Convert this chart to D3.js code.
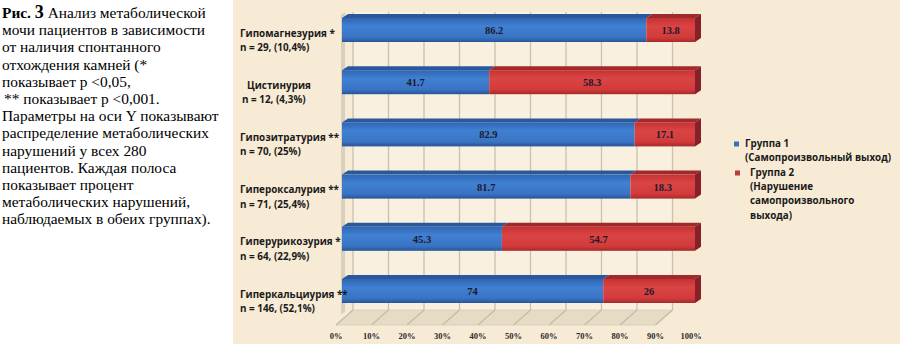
<!DOCTYPE html>
<html><head><meta charset="utf-8">
<script src="https://cdn.jsdelivr.net/npm/d3@7"></script>
<style>body{margin:0;background:#fff}svg{display:block}</style>
</head><body>
<svg id="c" width="900" height="359"></svg>
<script>
const categories = ["Гипомагнезурия *", "Цистинурия", "Гипозитратурия **", "Гипероксалурия **", "Гиперурикозурия *", "Гиперкальциурия **"];
const subLabels = ["n = 29, (10,4%)", "n = 12, (4,3%)", "n = 70, (25%)", "n = 71, (25,4%)", "n = 64, (22,9%)", "n = 146, (52,1%)"];
const group1 = [86.2, 41.7, 82.9, 81.7, 45.3, 74];
const group2 = [13.8, 58.3, 17.1, 18.3, 54.7, 26];
const tickValues = [0,10,20,30,40,50,60,70,80,90,100];
const tickLabels = ["0%","10%","20%","30%","40%","50%","60%","70%","80%","90%","100%"];
const gridValues = [0,10,20,30,40,50,60,70,80,90];
const legendLabels = [["Группа 1","(Самопроизвольный выход)"],["Группа 2","(Нарушение","самопроизвольного","выхода)"]];
const captionLines = ["Анализ метаболической","мочи пациентов в зависимости","от наличия спонтанного","отхождения камней (*","показывает p <0,05,","** показывает p <0,001.","Параметры на оси Y показывают","распределение метаболических","нарушений у всех 280","пациентов. Каждая полоса","показывает процент","метаболических нарушений,","наблюдаемых в обеих группах)."];

const svg = d3.select("#c");
const defs = svg.append("defs");
function grad(id, stops){
  const g = defs.append("linearGradient").attr("id", id).attr("x1",0).attr("y1",0).attr("x2",0).attr("y2",1);
  stops.forEach(s => g.append("stop").attr("offset", s[0]).attr("stop-color", s[1]));
}
grad("gBlue", [[0,"#3066b4"],[0.35,"#4080d2"],[0.8,"#3a74c4"],[1,"#27549a"]]);
grad("gRed", [[0,"#c63232"],[0.35,"#da4444"],[0.8,"#d33b3b"],[1,"#a62a2c"]]);

// background panel
svg.append("rect").attr("x",233).attr("y",0).attr("width",667).attr("height",344).attr("fill","#f7ebd5");

// scales
const xFront = d3.scaleLinear().domain([0,100]).range([342,695]);
const xBack = d3.scaleLinear().domain([0,100]).range([353,708]);
const xFloor = d3.scaleLinear().domain([0,100]).range([336,691]);
const y = d3.scalePoint().domain(categories).range([30,291]);
const barH = 24, dx = 6, dy = -4;
const wallTop = 12, wallBottom = 310, floorFront = 325;

// back wall
svg.append("rect").attr("x",xBack(0)).attr("y",wallTop).attr("width",xBack(90)-xBack(0)).attr("height",wallBottom-wallTop).attr("fill","#f9f0df");
// floor
svg.append("polygon").attr("points",[[xBack(0),wallBottom],[xBack(90),wallBottom],[xFloor(90),floorFront],[xFloor(0),floorFront]].map(p=>p.join(",")).join(" "))
  .attr("fill","#e6dcc6").attr("stroke","#d6ccb6").attr("stroke-width",0.8);
// left wall thin strip
svg.append("polygon").attr("points",[[341,wallTop+3],[345,wallTop],[345,wallBottom+2],[341,wallBottom+4]].map(p=>p.join(",")).join(" "))
  .attr("fill","#d8cfbd");
// gridlines
svg.append("g").selectAll("line").data(gridValues).join("line")
  .attr("x1",d=>xBack(d)).attr("x2",d=>xBack(d)).attr("y1",wallTop).attr("y2",wallBottom)
  .attr("stroke","#c9c0b0").attr("stroke-width",1.3);
svg.append("g").selectAll("line").data(gridValues).join("line")
  .attr("x1",d=>xBack(d)).attr("x2",d=>xFloor(d)).attr("y1",wallBottom).attr("y2",floorFront)
  .attr("stroke","#c4baa8").attr("stroke-width",1.2);

// tick labels
svg.append("g").selectAll("text").data(tickValues).join("text")
  .attr("x",d=>xFloor(d)).attr("y",339).attr("text-anchor","middle")
  .attr("font-family","Liberation Serif").attr("font-weight","bold").attr("font-size",8.5).attr("fill","#2a2a2a")
  .text((d,i)=>tickLabels[i]);

// bars
const rows = categories.map((c,i)=>({c, i, a: group1[i], b: group2[i]}));
const gb = svg.append("g");
rows.forEach(r=>{
  const top = y(r.c) - barH/2, bot = top + barH;
  const segs = [
    {x0: xFront(0), x1: xFront(r.a), fill:"url(#gBlue)", topc:"#2a589c", v:r.a},
    {x0: xFront(r.a), x1: xFront(r.a + r.b), fill:"url(#gRed)", topc:"#a0292b", v:r.b}
  ];
  segs.forEach(s=>{
    gb.append("polygon").attr("points",[[s.x0,top],[s.x0+dx,top+dy],[s.x1+dx,top+dy],[s.x1,top]].map(p=>p.join(",")).join(" "))
      .attr("fill", s.topc);
    gb.append("rect").attr("x",s.x0).attr("y",top).attr("width",s.x1-s.x0).attr("height",barH).attr("fill",s.fill);
    gb.append("text").attr("x",(s.x0+s.x1)/2).attr("y",top+barH/2+4).attr("text-anchor","middle")
      .attr("font-family","Liberation Serif").attr("font-weight","bold").attr("font-size",10.5).attr("fill","#1c1a2a")
      .text(s.v);
  });
  const xe = xFront(r.a + r.b);
  gb.append("polygon").attr("points",[[xe,top],[xe+dx,top+dy],[xe+dx,bot+dy],[xe,bot]].map(p=>p.join(",")).join(" "))
    .attr("fill","#86202a");
});

// category labels
const lab = svg.append("g").attr("font-family","Open Sans").attr("font-weight","bold").attr("font-size",9.9).attr("fill","#1a1a1a");
rows.forEach(r=>{
  const indent = r.i===1 ? 7 : 0;
  lab.append("text").attr("x",240+indent).attr("y",y(r.c)+6.5).text(r.c);
  lab.append("text").attr("x",240+(r.i===1?2:0)).attr("y",y(r.c)+21).text(subLabels[r.i]);
});

// legend
const lg = svg.append("g").attr("font-family","Open Sans").attr("font-weight","bold").attr("font-size",9.8).attr("fill","#1a1a1a");
const legColors = ["#3a72c2","#c0393b"];
const legY = [147,176], legSq = [734,735], legTx = [745,750];
legendLabels.forEach((lines,k)=>{
  lg.append("rect").attr("x",legSq[k]).attr("y",legY[k]-5.5).attr("width",5).attr("height",5).attr("fill",legColors[k]);
  lines.forEach((t,j)=>{
    lg.append("text").attr("x", j===0 ? legTx[k] : (k===0?745:750)).attr("y",legY[k]+j*14.2).text(t);
  });
});

// caption
const cap = svg.append("text").attr("font-family","Liberation Serif").attr("font-size",15.4).attr("fill","#000");
cap.append("tspan").attr("x",2).attr("y",18).attr("font-weight","bold").text("Рис. ");
cap.append("tspan").attr("font-weight","bold").attr("font-size",18).text("3");
cap.append("tspan").text(" " + captionLines[0]);
captionLines.slice(1).forEach((t,j)=>{
  cap.append("tspan").attr("x", j===4 ? 4 : 2).attr("y",18 + (j+1)*17.2).text(t);
});
</script>
</body></html>
